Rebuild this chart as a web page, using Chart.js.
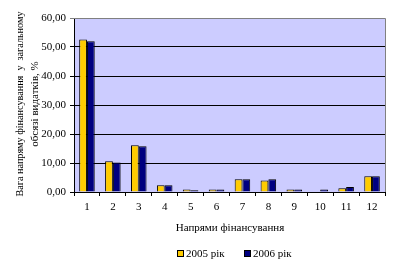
<!DOCTYPE html>
<html>
<head>
<meta charset="utf-8">
<script src="https://cdn.jsdelivr.net/npm/chart.js@4"></script>
<style>
	html, body { margin: 0; padding: 0; background: #fff; }
	#chart { display: block; }
</style>
</head>
<body>
<canvas id="chart" width="396" height="266"></canvas>
<script>
'use strict'

// directions of financing 1..12
const categories = ['1', '2', '3', '4', '5', '6', '7', '8', '9', '10', '11', '12'];
const values2005 = [52.6, 10.6, 16.1, 2.3, 0.9, 0.9, 4.4, 4.0, 0.9, 0.0, 1.3, 5.4];
const values2006 = [52.0, 10.2, 15.8, 2.3, 0.6, 0.9, 4.4, 4.4, 0.9, 0.9, 1.7, 5.4];
const seriesNames = ['2005 рік', '2006 рік'];
const yTitle = ['Вага напряму фінансування  у  загальному', 'обсязі видатків, %'];
const xTitle = 'Напрями фінансування';

const colors = {
	yellow: '#FFCC00',
	navy: '#000080',
	plotBg: '#CCCCFF',
	frame: '#808080',
	text: '#000',
};

const font = '11px "Liberation Serif", "Times New Roman", serif';

const plotDecor = {
	id: 'plotDecor',
	beforeDraw(chart) {
		const { ctx, chartArea: { left, top, right, bottom } } = chart;
		ctx.save();
		ctx.fillStyle = colors.plotBg;
		ctx.fillRect(left, top, right - left, bottom - top);
		ctx.restore();
	},
	afterDraw(chart) {
		const { ctx, chartArea: { left, top, right, bottom } } = chart;
		ctx.save();
		// grey frame top and right
		ctx.strokeStyle = colors.frame;
		ctx.lineWidth = 1;
		ctx.beginPath();
		ctx.moveTo(left, top + 0.5);
		ctx.lineTo(right + 0.5, top + 0.5);
		ctx.lineTo(right + 0.5, bottom);
		ctx.stroke();

		ctx.fillStyle = colors.text;
		ctx.font = font;
		ctx.textAlign = 'center';
		ctx.textBaseline = 'middle';

		// y axis title, two rotated lines
		ctx.save();
		ctx.translate(20, 104);
		ctx.rotate(-Math.PI / 2);
		ctx.fillText(yTitle[0], 0, 0, 185);
		ctx.fillText(yTitle[1], 0, 15);
		ctx.restore();

		// x axis title
		ctx.fillText(xTitle, 230, 228);

		// legend
		const items = [
			{ x: 177, color: colors.yellow, label: seriesNames[0] },
			{ x: 244, color: colors.navy, label: seriesNames[1] },
		];
		ctx.textAlign = 'left';
		items.forEach(it => {
			ctx.fillStyle = it.color;
			ctx.fillRect(it.x + 0.5, 250.5, 6, 6);
			ctx.strokeStyle = '#000';
			ctx.strokeRect(it.x + 0.5, 250.5, 6, 6);
			ctx.fillStyle = colors.text;
			ctx.fillText(it.label, it.x + 9, 254);
		});
		ctx.restore();
	},
};

new Chart(document.getElementById('chart'), {
	type: 'bar',
	data: {
		labels: categories,
		datasets: [
			{
				label: seriesNames[0],
				data: values2005,
				backgroundColor: colors.yellow,
				borderColor: '#000',
				borderWidth: 1,
			},
			{
				label: seriesNames[1],
				data: values2006,
				backgroundColor: colors.navy,
				borderColor: '#000',
				borderWidth: 1,
			},
		],
	},
	options: {
		responsive: false,
		animation: false,
		events: [],
		layout: {
			padding: { top: 18, right: 11, bottom: 0, left: 0 },
		},
		datasets: {
			bar: {
				categoryPercentage: 0.6,
				barPercentage: 1.0,
			},
		},
		plugins: {
			legend: { display: false },
			tooltip: { enabled: false },
		},
		scales: {
			x: {
				afterFit: s => { s.height = 74; },
				grid: {
					offset: true,
					drawOnChartArea: false,
					tickLength: 4,
					color: '#000',
				},
				border: { color: '#000' },
				ticks: {
					color: colors.text,
					font: { family: '"Liberation Serif"', size: 11 },
					padding: 5,
					maxRotation: 0,
				},
			},
			y: {
				min: 0,
				max: 60,
				afterFit: s => { s.width = 74; },
				grid: {
					tickLength: 4,
					color: ctx => (ctx.tick && ctx.tick.value === 60 ? colors.frame : '#000'),
				},
				border: { color: '#000' },
				ticks: {
					stepSize: 10,
					padding: 4,
					color: colors.text,
					font: { family: '"Liberation Serif"', size: 11 },
					callback: v => v.toFixed(2).replace('.', ','),
				},
			},
		},
	},
	plugins: [plotDecor],
});
</script>
</body>
</html>
